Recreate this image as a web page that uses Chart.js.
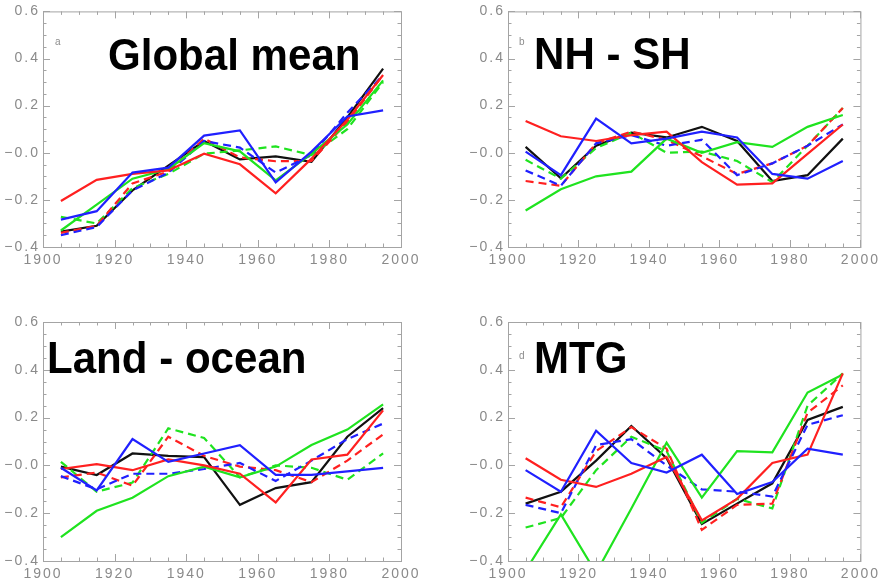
<!DOCTYPE html>
<html>
<head>
<meta charset="utf-8">
<script src="https://cdn.jsdelivr.net/npm/chart.js@4.4.1/dist/chart.umd.min.js"></script>
<style>
  html, body { margin: 0; padding: 0; background: #fff; }
  #page { position: relative; width: 881px; height: 581px; overflow: hidden; }
  .panel { position: absolute; }
  .title { position: absolute; font: bold 45px "Liberation Sans", Arial, sans-serif; line-height: 45px; color: #000; white-space: nowrap; transform: scaleX(0.935); transform-origin: 0 0; }
  .letter { position: absolute; font: 10px "Liberation Sans", Arial, sans-serif; color: #8c8c8c; }
</style>
</head>
<body>
<div id="page">
  <div class="panel" style="left:0px;top:0px;width:440px;height:290px"><canvas id="chartA"></canvas></div>
  <div class="panel" style="left:440px;top:0px;width:441px;height:290px"><canvas id="chartB"></canvas></div>
  <div class="panel" style="left:0px;top:290px;width:440px;height:291px"><canvas id="chartC"></canvas></div>
  <div class="panel" style="left:440px;top:290px;width:441px;height:291px"><canvas id="chartD"></canvas></div>
  <div class="letter" style="left:55px;top:36px">a</div>
  <div class="letter" style="left:519px;top:36px">b</div>
  <div class="letter" style="left:519px;top:350px">d</div>
  <div class="title" style="left:108px;top:32px">Global mean</div>
  <div class="title" style="left:534px;top:31px">NH - SH</div>
  <div class="title" style="left:47px;top:335px">Land - ocean</div>
  <div class="title" style="left:534px;top:335px">MTG</div>
</div>
<script>
// decade mid-points
const Years = [1905, 1915, 1925, 1935, 1945, 1955, 1965, 1975, 1985, 1995];
const XTicks = [1900, 1920, 1940, 1960, 1980, 2000];
const YTicks = [-0.4, -0.2, 0.0, 0.2, 0.4, 0.6];

// a) global mean
const gmBlack     = [-0.335, -0.31, -0.16, -0.055, 0.05, -0.028, -0.015, -0.038, 0.15, 0.357];
const gmRed       = [-0.205, -0.115, -0.09, -0.075, -0.004, -0.049, -0.172, -0.025, 0.14, 0.33];
const gmBlue      = [-0.284, -0.248, -0.084, -0.063, 0.073, 0.095, -0.126, 0.005, 0.154, 0.18];
const gmGreen     = [-0.33, -0.22, -0.11, -0.07, 0.041, 0.006, -0.117, -0.004, 0.12, 0.307];
const gmRedDash   = [-0.34, -0.31, -0.13, -0.08, 0.06, -0.02, -0.036, -0.035, 0.13, 0.33];
const gmBlueDash  = [-0.35, -0.315, -0.16, -0.085, 0.05, 0.022, -0.084, -0.01, 0.17, 0.33];
const gmGreenDash = [-0.272, -0.30, -0.15, -0.09, -0.004, 0.01, 0.027, -0.01, 0.10, 0.30];

// b) NH - SH
const nsBlack     = [0.025, -0.108, 0.03, 0.085, 0.065, 0.11, 0.05, -0.12, -0.095, 0.06];
const nsRed       = [0.135, 0.07, 0.05, 0.075, 0.09, -0.04, -0.135, -0.13, -0.005, 0.12];
const nsBlue      = [0.005, -0.095, 0.145, 0.04, 0.06, 0.09, 0.065, -0.09, -0.11, -0.035];
const nsGreen     = [-0.245, -0.155, -0.10, -0.08, 0.06, 0.0, 0.045, 0.025, 0.11, 0.16];
const nsRedDash   = [-0.12, -0.14, 0.04, 0.09, 0.055, -0.015, -0.09, -0.045, 0.03, 0.19];
const nsBlueDash  = [-0.075, -0.14, 0.04, 0.075, 0.03, 0.055, -0.095, -0.045, 0.03, 0.12];
const nsGreenDash = [-0.03, -0.11, 0.02, 0.085, 0.0, 0.005, -0.035, -0.125, 0.03, 0.19];

// c) land - ocean
const loBlack     = [-0.005, -0.04, 0.05, 0.04, 0.035, -0.165, -0.095, -0.07, 0.12, 0.24];
const loRed       = [-0.015, 0.005, -0.02, 0.025, 0.0, -0.035, -0.155, 0.025, 0.045, 0.23];
const loBlue      = [-0.01, -0.105, 0.11, 0.015, 0.05, 0.085, -0.04, -0.04, -0.025, -0.01];
const loGreen     = [-0.30, -0.19, -0.135, -0.045, -0.005, -0.05, -0.005, 0.085, 0.15, 0.255];
const loRedDash   = [-0.05, -0.03, -0.085, 0.12, 0.04, -0.005, -0.02, -0.07, 0.02, 0.13];
const loBlueDash  = [-0.045, -0.10, -0.035, -0.035, -0.015, 0.01, -0.065, 0.02, 0.11, 0.175];
const loGreenDash = [0.015, -0.11, -0.072, 0.155, 0.115, -0.05, 0.0, -0.01, -0.06, 0.05];

// d) MTG
const mtBlack     = [-0.16, -0.11, 0.02, 0.165, 0.03, -0.245, -0.16, -0.075, 0.19, 0.245];
const mtRed       = [0.03, -0.06, -0.09, -0.035, 0.035, -0.23, -0.14, 0.01, 0.045, 0.385];
const mtBlue      = [-0.02, -0.11, 0.145, 0.01, -0.03, 0.045, -0.12, -0.07, 0.07, 0.045];
const mtGreen     = [-0.44, -0.205, -0.45, -0.18, 0.095, -0.135, 0.06, 0.055, 0.305, 0.38];
const mtRedDash   = [-0.135, -0.175, 0.06, 0.16, 0.07, -0.27, -0.165, -0.16, 0.22, 0.335];
const mtBlueDash  = [-0.165, -0.20, 0.085, 0.11, 0.0, -0.10, -0.11, -0.13, 0.17, 0.21];
const mtGreenDash = [-0.26, -0.22, -0.02, 0.12, 0.06, -0.24, -0.14, -0.18, 0.25, 0.385];

const cBlack = '#111111';
const cRed = '#ff2020';
const cBlue = '#2020ff';
const cGreen = '#1fe31f';
const axisGrey = '#a4a4a4';
const labelGrey = '#8a8a8a';

function pts(vals) {
	return vals.map(function(v, i) { return { x: Years[i], y: v }; });
}

function series(vals, colour, dashed) {
	return {
		data: pts(vals),
		borderColor: colour,
		borderWidth: 2.2,
		borderDash: dashed ? [8, 5] : [],
		pointRadius: 0,
		tension: 0,
		fill: false
	};
}

// inward tick marks on all four sides, plus the box
const frameTicks = {
	id: 'frameTicks',
	beforeDraw(chart) {
		chart.ctx.letterSpacing = '2px';
	},
	afterDraw(chart) {
		var ctx = chart.ctx, a = chart.chartArea;
		var xs = chart.scales.x, ys = chart.scales.y;
		ctx.save();
		ctx.strokeStyle = axisGrey;
		ctx.lineWidth = 1;
		ctx.setLineDash([]);
		ctx.strokeRect(a.left + 0.5, a.top + 0.5, a.right - a.left, a.bottom - a.top);
		ctx.beginPath();
		for (var yr = 1900; yr <= 2000; yr += 5) {
			var px = Math.round(xs.getPixelForValue(yr)) + 0.5;
			var len = (yr % 20 === 0) ? 7 : 3.5;
			ctx.moveTo(px, a.bottom); ctx.lineTo(px, a.bottom - len);
			ctx.moveTo(px, a.top); ctx.lineTo(px, a.top + len);
		}//end for yr
		for (var k = -8; k <= 12; k++) {
			var py = Math.round(ys.getPixelForValue(k * 0.05)) + 0.5;
			var l2 = (k % 4 === 0) ? 7 : 3.5;
			ctx.moveTo(a.left, py); ctx.lineTo(a.left + l2, py);
			ctx.moveTo(a.right, py); ctx.lineTo(a.right - l2, py);
		}//end for k
		ctx.stroke();
		ctx.restore();
	}
};

function makePanel(id, sets, area) {
	var ctx = document.getElementById(id).getContext('2d');
	var datasets = [
		series(sets[2], cBlue, false),
		series(sets[1], cRed, false),
		series(sets[3], cGreen, false),
		series(sets[5], cBlue, true),
		series(sets[4], cRed, true),
		series(sets[6], cGreen, true),
		series(sets[0], cBlack, false)
	];
	return new Chart(ctx, {
		type: 'line',
		data: { datasets: datasets },
		plugins: [frameTicks],
		options: {
			responsive: true,
			maintainAspectRatio: false,
			animation: false,
			events: [],
			layout: { padding: { top: area.top, right: area.right, left: 0, bottom: 0 } },
			plugins: { legend: { display: false }, tooltip: { enabled: false } },
			scales: {
				x: {
					type: 'linear',
					min: 1900, max: 2000,
					afterBuildTicks: function(s) { s.ticks = XTicks.map(function(v) { return { value: v }; }); },
					afterFit: function(s) { s.height = area.bottom; },
					grid: { display: false, drawTicks: false },
					border: { display: false },
					ticks: {
						color: labelGrey, padding: 5, maxRotation: 0, autoSkip: false,
						font: { family: 'Liberation Sans', size: 14 },
						callback: function(v) { return String(v); }
					}
				},
				y: {
					type: 'linear',
					min: -0.4, max: 0.6,
					afterBuildTicks: function(s) { s.ticks = YTicks.map(function(v) { return { value: v }; }); },
					afterFit: function(s) { s.width = area.left; },
					grid: { display: false, drawTicks: false },
					border: { display: false },
					ticks: {
						color: labelGrey, padding: 3, autoSkip: false,
						font: { family: 'Liberation Sans', size: 14 },
						callback: function(v) {
							if (Math.abs(v) < 1e-9) return '\u22120.0';
							return v < 0 ? '\u2212' + Math.abs(v).toFixed(1) : v.toFixed(1);
						}
					}
				}
			}
		}
	});
}//end makePanel

window.onload = function() {
	makePanel('chartA', [gmBlack, gmRed, gmBlue, gmGreen, gmRedDash, gmBlueDash, gmGreenDash],
		{ left: 43, top: 9, right: 39, bottom: 43 });
	makePanel('chartB', [nsBlack, nsRed, nsBlue, nsGreen, nsRedDash, nsBlueDash, nsGreenDash],
		{ left: 68, top: 9, right: 16, bottom: 43 });
	makePanel('chartC', [loBlack, loRed, loBlue, loGreen, loRedDash, loBlueDash, loGreenDash],
		{ left: 43, top: 32, right: 39, bottom: 20 });
	makePanel('chartD', [mtBlack, mtRed, mtBlue, mtGreen, mtRedDash, mtBlueDash, mtGreenDash],
		{ left: 68, top: 32, right: 16, bottom: 20 });
}//end window.onload
</script>
</body>
</html>
